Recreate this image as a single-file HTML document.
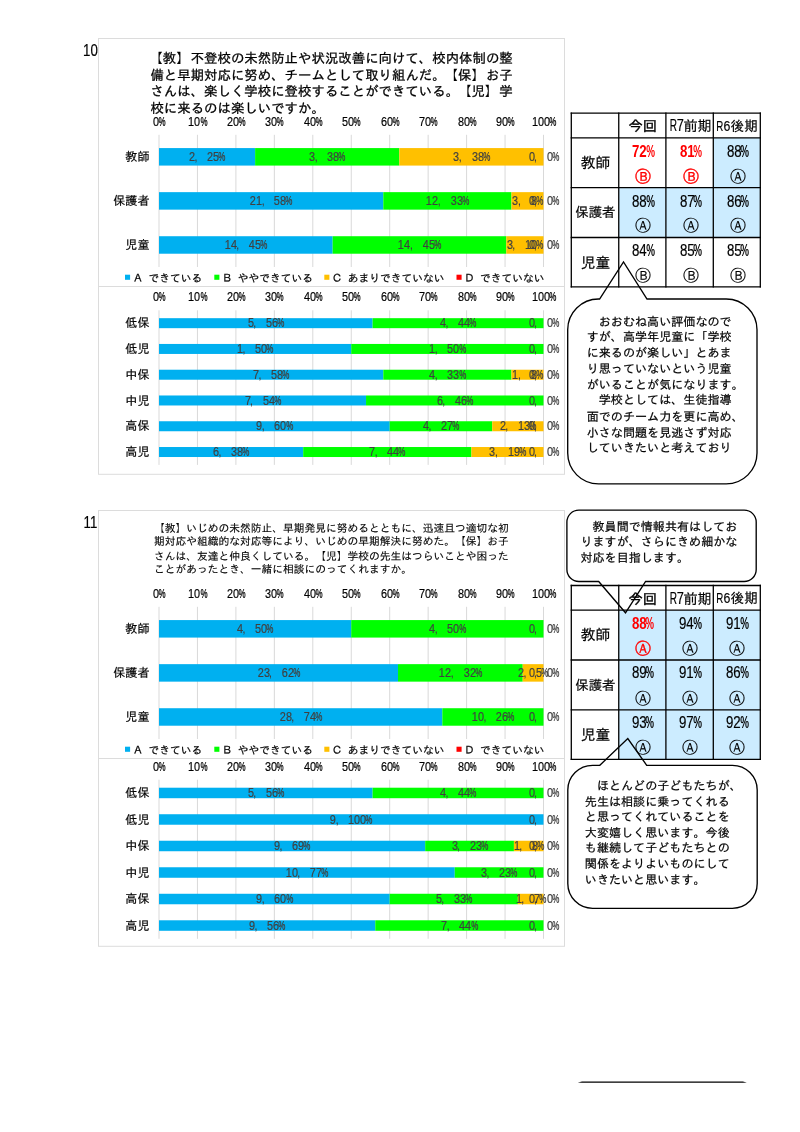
<!DOCTYPE html>
<html lang="ja">
<head>
<meta charset="utf-8">
<title>学校評価アンケート結果 10・11</title>
<style>
html,body{margin:0;padding:0;background:#fff}
body{width:800px;height:1132px;position:relative;overflow:hidden;color:#000;
 font-family:"Liberation Sans","IPAGothic",sans-serif;-webkit-font-smoothing:antialiased}
#shapes{position:absolute;left:0;top:0;width:800px;height:1132px;display:block}
.t{position:absolute;white-space:pre;margin:0;padding:0;-webkit-text-stroke:.2px currentColor;font-family:"Liberation Sans","IPAGothic",sans-serif}
.al{transform:none}
.ac{transform:translateX(-50%)}
.ar{transform:translateX(-100%)}
.d,.p,.m,.r,.s{display:inline-flex;justify-content:center;font-size:1.11em;line-height:0;width:0.4505em;vertical-align:baseline;white-space:pre}
.d{transform:scaleX(.81)}
.p{transform:scaleX(.6);font-weight:bold;-webkit-text-stroke:0}
.r{transform:scaleX(.64)}
.m{justify-content:flex-start;text-indent:-.06em;font-size:1em;width:.5em;-webkit-text-stroke:0}
.ttl{-webkit-text-stroke:.28px currentColor}
.bk{position:relative;left:0}
.t1 .bk{left:-1.1px}
.t2{-webkit-text-stroke:.12px currentColor}
.hb{-webkit-text-stroke:.38px currentColor}
.rb{font-weight:bold;-webkit-text-stroke:0}
.gr{-webkit-text-stroke:.1px currentColor}
.rg{-webkit-text-stroke:.35px currentColor}
</style>
</head>
<body>
<svg id="shapes" width="800" height="1132" viewBox="0 0 800 1132" shape-rendering="auto">
<g>
<rect x="98.5" y="38.5" width="466" height="435.8" fill="#fff" stroke="#DCDCDC" stroke-width="1"/>
<line x1="98.5" y1="286.5" x2="564.5" y2="286.5" stroke="#DCDCDC" stroke-width="1"/>
<line x1="159" y1="134.8" x2="159" y2="267" stroke="#D9D9D9" stroke-width="1"/>
<line x1="197.45" y1="134.8" x2="197.45" y2="267" stroke="#D9D9D9" stroke-width="1"/>
<line x1="235.9" y1="134.8" x2="235.9" y2="267" stroke="#D9D9D9" stroke-width="1"/>
<line x1="274.35" y1="134.8" x2="274.35" y2="267" stroke="#D9D9D9" stroke-width="1"/>
<line x1="312.8" y1="134.8" x2="312.8" y2="267" stroke="#D9D9D9" stroke-width="1"/>
<line x1="351.25" y1="134.8" x2="351.25" y2="267" stroke="#D9D9D9" stroke-width="1"/>
<line x1="389.7" y1="134.8" x2="389.7" y2="267" stroke="#D9D9D9" stroke-width="1"/>
<line x1="428.15" y1="134.8" x2="428.15" y2="267" stroke="#D9D9D9" stroke-width="1"/>
<line x1="466.6" y1="134.8" x2="466.6" y2="267" stroke="#D9D9D9" stroke-width="1"/>
<line x1="505.05" y1="134.8" x2="505.05" y2="267" stroke="#D9D9D9" stroke-width="1"/>
<line x1="543.5" y1="134.8" x2="543.5" y2="267" stroke="#D9D9D9" stroke-width="1"/>
<rect x="159" y="148.08" width="96.12" height="17.5" fill="#00B0F0"/>
<rect x="255.12" y="148.08" width="144.19" height="17.5" fill="#00FF00"/>
<rect x="399.31" y="148.08" width="144.19" height="17.5" fill="#FFC000"/>
<rect x="159" y="192.15" width="224.29" height="17.5" fill="#00B0F0"/>
<rect x="383.29" y="192.15" width="128.17" height="17.5" fill="#00FF00"/>
<rect x="511.46" y="192.15" width="32.04" height="17.5" fill="#FFC000"/>
<rect x="159" y="236.22" width="173.65" height="17.5" fill="#00B0F0"/>
<rect x="332.65" y="236.22" width="173.65" height="17.5" fill="#00FF00"/>
<rect x="506.29" y="236.22" width="37.21" height="17.5" fill="#FFC000"/>
<line x1="159" y1="310.3" x2="159" y2="464.9" stroke="#D9D9D9" stroke-width="1"/>
<line x1="197.45" y1="310.3" x2="197.45" y2="464.9" stroke="#D9D9D9" stroke-width="1"/>
<line x1="235.9" y1="310.3" x2="235.9" y2="464.9" stroke="#D9D9D9" stroke-width="1"/>
<line x1="274.35" y1="310.3" x2="274.35" y2="464.9" stroke="#D9D9D9" stroke-width="1"/>
<line x1="312.8" y1="310.3" x2="312.8" y2="464.9" stroke="#D9D9D9" stroke-width="1"/>
<line x1="351.25" y1="310.3" x2="351.25" y2="464.9" stroke="#D9D9D9" stroke-width="1"/>
<line x1="389.7" y1="310.3" x2="389.7" y2="464.9" stroke="#D9D9D9" stroke-width="1"/>
<line x1="428.15" y1="310.3" x2="428.15" y2="464.9" stroke="#D9D9D9" stroke-width="1"/>
<line x1="466.6" y1="310.3" x2="466.6" y2="464.9" stroke="#D9D9D9" stroke-width="1"/>
<line x1="505.05" y1="310.3" x2="505.05" y2="464.9" stroke="#D9D9D9" stroke-width="1"/>
<line x1="543.5" y1="310.3" x2="543.5" y2="464.9" stroke="#D9D9D9" stroke-width="1"/>
<rect x="159" y="318.18" width="213.61" height="10" fill="#00B0F0"/>
<rect x="372.61" y="318.18" width="170.89" height="10" fill="#00FF00"/>
<rect x="159" y="343.95" width="192.25" height="10" fill="#00B0F0"/>
<rect x="351.25" y="343.95" width="192.25" height="10" fill="#00FF00"/>
<rect x="159" y="369.72" width="224.29" height="10" fill="#00B0F0"/>
<rect x="383.29" y="369.72" width="128.17" height="10" fill="#00FF00"/>
<rect x="511.46" y="369.72" width="32.04" height="10" fill="#FFC000"/>
<rect x="159" y="395.48" width="207.04" height="10" fill="#00B0F0"/>
<rect x="366.04" y="395.48" width="177.46" height="10" fill="#00FF00"/>
<rect x="159" y="421.25" width="230.7" height="10" fill="#00B0F0"/>
<rect x="389.7" y="421.25" width="102.53" height="10" fill="#00FF00"/>
<rect x="492.23" y="421.25" width="51.27" height="10" fill="#FFC000"/>
<rect x="159" y="447.02" width="144.19" height="10" fill="#00B0F0"/>
<rect x="303.19" y="447.02" width="168.22" height="10" fill="#00FF00"/>
<rect x="471.41" y="447.02" width="72.09" height="10" fill="#FFC000"/>
<rect x="125" y="274.7" width="5.1" height="5.1" fill="#00B0F0"/>
<rect x="214.3" y="274.7" width="5.1" height="5.1" fill="#00FF00"/>
<rect x="324.3" y="274.7" width="5.1" height="5.1" fill="#FFC000"/>
<rect x="456.5" y="274.7" width="5.1" height="5.1" fill="#FF0000"/>
</g>
<g>
<rect x="98.5" y="510.5" width="466" height="435.8" fill="#fff" stroke="#DCDCDC" stroke-width="1"/>
<line x1="98.5" y1="758.5" x2="564.5" y2="758.5" stroke="#DCDCDC" stroke-width="1"/>
<line x1="159" y1="606.8" x2="159" y2="739" stroke="#D9D9D9" stroke-width="1"/>
<line x1="197.45" y1="606.8" x2="197.45" y2="739" stroke="#D9D9D9" stroke-width="1"/>
<line x1="235.9" y1="606.8" x2="235.9" y2="739" stroke="#D9D9D9" stroke-width="1"/>
<line x1="274.35" y1="606.8" x2="274.35" y2="739" stroke="#D9D9D9" stroke-width="1"/>
<line x1="312.8" y1="606.8" x2="312.8" y2="739" stroke="#D9D9D9" stroke-width="1"/>
<line x1="351.25" y1="606.8" x2="351.25" y2="739" stroke="#D9D9D9" stroke-width="1"/>
<line x1="389.7" y1="606.8" x2="389.7" y2="739" stroke="#D9D9D9" stroke-width="1"/>
<line x1="428.15" y1="606.8" x2="428.15" y2="739" stroke="#D9D9D9" stroke-width="1"/>
<line x1="466.6" y1="606.8" x2="466.6" y2="739" stroke="#D9D9D9" stroke-width="1"/>
<line x1="505.05" y1="606.8" x2="505.05" y2="739" stroke="#D9D9D9" stroke-width="1"/>
<line x1="543.5" y1="606.8" x2="543.5" y2="739" stroke="#D9D9D9" stroke-width="1"/>
<rect x="159" y="620.08" width="192.25" height="17.5" fill="#00B0F0"/>
<rect x="351.25" y="620.08" width="192.25" height="17.5" fill="#00FF00"/>
<rect x="159" y="664.15" width="239.01" height="17.5" fill="#00B0F0"/>
<rect x="398.01" y="664.15" width="124.7" height="17.5" fill="#00FF00"/>
<rect x="522.72" y="664.15" width="20.78" height="17.5" fill="#FFC000"/>
<rect x="159" y="708.22" width="283.32" height="17.5" fill="#00B0F0"/>
<rect x="442.32" y="708.22" width="101.18" height="17.5" fill="#00FF00"/>
<line x1="159" y1="779.7" x2="159" y2="938.8" stroke="#D9D9D9" stroke-width="1"/>
<line x1="197.45" y1="779.7" x2="197.45" y2="938.8" stroke="#D9D9D9" stroke-width="1"/>
<line x1="235.9" y1="779.7" x2="235.9" y2="938.8" stroke="#D9D9D9" stroke-width="1"/>
<line x1="274.35" y1="779.7" x2="274.35" y2="938.8" stroke="#D9D9D9" stroke-width="1"/>
<line x1="312.8" y1="779.7" x2="312.8" y2="938.8" stroke="#D9D9D9" stroke-width="1"/>
<line x1="351.25" y1="779.7" x2="351.25" y2="938.8" stroke="#D9D9D9" stroke-width="1"/>
<line x1="389.7" y1="779.7" x2="389.7" y2="938.8" stroke="#D9D9D9" stroke-width="1"/>
<line x1="428.15" y1="779.7" x2="428.15" y2="938.8" stroke="#D9D9D9" stroke-width="1"/>
<line x1="466.6" y1="779.7" x2="466.6" y2="938.8" stroke="#D9D9D9" stroke-width="1"/>
<line x1="505.05" y1="779.7" x2="505.05" y2="938.8" stroke="#D9D9D9" stroke-width="1"/>
<line x1="543.5" y1="779.7" x2="543.5" y2="938.8" stroke="#D9D9D9" stroke-width="1"/>
<rect x="159" y="787.71" width="213.61" height="10.5" fill="#00B0F0"/>
<rect x="372.61" y="787.71" width="170.89" height="10.5" fill="#00FF00"/>
<rect x="159" y="814.23" width="384.5" height="10.5" fill="#00B0F0"/>
<rect x="159" y="840.74" width="266.19" height="10.5" fill="#00B0F0"/>
<rect x="425.19" y="840.74" width="88.73" height="10.5" fill="#00FF00"/>
<rect x="513.92" y="840.74" width="29.58" height="10.5" fill="#FFC000"/>
<rect x="159" y="867.26" width="295.77" height="10.5" fill="#00B0F0"/>
<rect x="454.77" y="867.26" width="88.73" height="10.5" fill="#00FF00"/>
<rect x="159" y="893.77" width="230.7" height="10.5" fill="#00B0F0"/>
<rect x="389.7" y="893.77" width="128.17" height="10.5" fill="#00FF00"/>
<rect x="517.87" y="893.77" width="25.63" height="10.5" fill="#FFC000"/>
<rect x="159" y="920.29" width="216.28" height="10.5" fill="#00B0F0"/>
<rect x="375.28" y="920.29" width="168.22" height="10.5" fill="#00FF00"/>
<rect x="125" y="746.7" width="5.1" height="5.1" fill="#00B0F0"/>
<rect x="214.3" y="746.7" width="5.1" height="5.1" fill="#00FF00"/>
<rect x="324.3" y="746.7" width="5.1" height="5.1" fill="#FFC000"/>
<rect x="456.5" y="746.7" width="5.1" height="5.1" fill="#FF0000"/>
</g>
<g>
<rect x="571.3" y="113.1" width="189" height="173.8" fill="#fff"/>
<rect x="713.3" y="137.8" width="47" height="49.8" fill="#CCECFF"/>
<rect x="618.75" y="187.6" width="47.15" height="49.9" fill="#CCECFF"/>
<rect x="665.9" y="187.6" width="47.4" height="49.9" fill="#CCECFF"/>
<rect x="713.3" y="187.6" width="47" height="49.9" fill="#CCECFF"/>
<line x1="571.3" y1="112.45" x2="571.3" y2="287.55" stroke="#000" stroke-width="1.3"/>
<line x1="618.75" y1="112.45" x2="618.75" y2="287.55" stroke="#000" stroke-width="1.3"/>
<line x1="665.9" y1="112.45" x2="665.9" y2="287.55" stroke="#000" stroke-width="1.3"/>
<line x1="713.3" y1="112.45" x2="713.3" y2="287.55" stroke="#000" stroke-width="1.3"/>
<line x1="760.3" y1="112.45" x2="760.3" y2="287.55" stroke="#000" stroke-width="1.3"/>
<line x1="570.65" y1="113.1" x2="760.95" y2="113.1" stroke="#000" stroke-width="1.3"/>
<line x1="570.65" y1="137.8" x2="760.95" y2="137.8" stroke="#000" stroke-width="1.3"/>
<line x1="570.65" y1="187.6" x2="760.95" y2="187.6" stroke="#000" stroke-width="1.3"/>
<line x1="570.65" y1="237.5" x2="760.95" y2="237.5" stroke="#000" stroke-width="1.3"/>
<line x1="570.65" y1="286.9" x2="760.95" y2="286.9" stroke="#000" stroke-width="1.3"/>
</g>
<g>
<rect x="571.3" y="585.5" width="189" height="173.8" fill="#fff"/>
<rect x="618.75" y="610.2" width="47.15" height="49.8" fill="#CCECFF"/>
<rect x="665.9" y="610.2" width="47.4" height="49.8" fill="#CCECFF"/>
<rect x="713.3" y="610.2" width="47" height="49.8" fill="#CCECFF"/>
<rect x="618.75" y="660" width="47.15" height="49.9" fill="#CCECFF"/>
<rect x="665.9" y="660" width="47.4" height="49.9" fill="#CCECFF"/>
<rect x="713.3" y="660" width="47" height="49.9" fill="#CCECFF"/>
<rect x="618.75" y="709.9" width="47.15" height="49.4" fill="#CCECFF"/>
<rect x="665.9" y="709.9" width="47.4" height="49.4" fill="#CCECFF"/>
<rect x="713.3" y="709.9" width="47" height="49.4" fill="#CCECFF"/>
<line x1="571.3" y1="584.85" x2="571.3" y2="759.95" stroke="#000" stroke-width="1.3"/>
<line x1="618.75" y1="584.85" x2="618.75" y2="759.95" stroke="#000" stroke-width="1.3"/>
<line x1="665.9" y1="584.85" x2="665.9" y2="759.95" stroke="#000" stroke-width="1.3"/>
<line x1="713.3" y1="584.85" x2="713.3" y2="759.95" stroke="#000" stroke-width="1.3"/>
<line x1="760.3" y1="584.85" x2="760.3" y2="759.95" stroke="#000" stroke-width="1.3"/>
<line x1="570.65" y1="585.5" x2="760.95" y2="585.5" stroke="#000" stroke-width="1.3"/>
<line x1="570.65" y1="610.2" x2="760.95" y2="610.2" stroke="#000" stroke-width="1.3"/>
<line x1="570.65" y1="660" x2="760.95" y2="660" stroke="#000" stroke-width="1.3"/>
<line x1="570.65" y1="709.9" x2="760.95" y2="709.9" stroke="#000" stroke-width="1.3"/>
<line x1="570.65" y1="759.3" x2="760.95" y2="759.3" stroke="#000" stroke-width="1.3"/>
</g>
<path d="M598.5 299 L599.6 299 L623.5 262 L647 299 L726.2 299 A30.8 30.8 0 0 1 757 329.8 L757 453.1 A30.8 30.8 0 0 1 726.2 483.9 L598.5 483.9 A30.8 30.8 0 0 1 567.7 453.1 L567.7 329.8 A30.8 30.8 0 0 1 598.5 299 Z" fill="none" stroke="#000" stroke-width="1.35" stroke-linejoin="miter"/>
<path d="M578.9 510.1 L744.2 510.1 A12 12 0 0 1 756.2 522.1 L756.2 569.5 A12 12 0 0 1 744.2 581.5 L645.6 581.5 L625.5 612.8 L598.7 581.5 L578.9 581.5 A12 12 0 0 1 566.9 569.5 L566.9 522.1 A12 12 0 0 1 578.9 510.1 Z" fill="none" stroke="#000" stroke-width="1.35" stroke-linejoin="miter"/>
<path d="M592.6 765.3 L599.8 765.3 L627.8 738.5 L646.7 765.3 L732.4 765.3 A24.8 24.8 0 0 1 757.2 790.1 L757.2 883.5 A24.8 24.8 0 0 1 732.4 908.3 L592.6 908.3 A24.8 24.8 0 0 1 567.8 883.5 L567.8 790.1 A24.8 24.8 0 0 1 592.6 765.3 Z" fill="none" stroke="#000" stroke-width="1.35" stroke-linejoin="miter"/>
<path d="M577.8 1082.5 L582 1081.45 L742.8 1081.45 L746.9 1082.5 L742.8 1082.85 L582 1082.85 Z" fill="#000"/>
</svg>
<div class="t al no" style="left:82.6px;top:43px;font-size:14.78px;line-height:17px"><span class="d" style="width:0.9009em">10</span></div>
<div class="t al no" style="left:82.6px;top:515px;font-size:14.78px;line-height:17px"><span class="d" style="width:0.9009em">11</span></div>
<div class="t al ttl t1" style="left:150.4px;top:51px;font-size:13.43px;line-height:16px"><span class="bk">【教】</span>不登校の未然防止や状況改善に向けて、校内体制の整</div>
<div class="t al ttl t1" style="left:150.4px;top:68px;font-size:13.43px;line-height:16px">備と早期対応に努め、チームとして取り組んだ。<span class="bk">【保】</span>お子</div>
<div class="t al ttl t1" style="left:150.4px;top:84px;font-size:13.43px;line-height:16px">さんは、楽しく学校に登校することができている。<span class="bk">【児】</span>学</div>
<div class="t al ttl t1" style="left:150.4px;top:101px;font-size:13.43px;line-height:16px">校に来るのは楽しいですか。</div>
<div class="t ac ax" style="left:159px;top:115px;font-size:12.09px;line-height:15px"><span class="d" style="width:0.4505em">0</span><span class="p">%</span></div>
<div class="t ac ax" style="left:197.45px;top:115px;font-size:12.09px;line-height:15px"><span class="d" style="width:0.9009em">10</span><span class="p">%</span></div>
<div class="t ac ax" style="left:235.9px;top:115px;font-size:12.09px;line-height:15px"><span class="d" style="width:0.9009em">20</span><span class="p">%</span></div>
<div class="t ac ax" style="left:274.35px;top:115px;font-size:12.09px;line-height:15px"><span class="d" style="width:0.9009em">30</span><span class="p">%</span></div>
<div class="t ac ax" style="left:312.8px;top:115px;font-size:12.09px;line-height:15px"><span class="d" style="width:0.9009em">40</span><span class="p">%</span></div>
<div class="t ac ax" style="left:351.25px;top:115px;font-size:12.09px;line-height:15px"><span class="d" style="width:0.9009em">50</span><span class="p">%</span></div>
<div class="t ac ax" style="left:389.7px;top:115px;font-size:12.09px;line-height:15px"><span class="d" style="width:0.9009em">60</span><span class="p">%</span></div>
<div class="t ac ax" style="left:428.15px;top:115px;font-size:12.09px;line-height:15px"><span class="d" style="width:0.9009em">70</span><span class="p">%</span></div>
<div class="t ac ax" style="left:466.6px;top:115px;font-size:12.09px;line-height:15px"><span class="d" style="width:0.9009em">80</span><span class="p">%</span></div>
<div class="t ac ax" style="left:505.05px;top:115px;font-size:12.09px;line-height:15px"><span class="d" style="width:0.9009em">90</span><span class="p">%</span></div>
<div class="t ac ax" style="left:543.5px;top:115px;font-size:12.09px;line-height:15px"><span class="d" style="width:1.3514em">100</span><span class="p">%</span></div>
<div class="t ar cat" style="left:149.5px;top:150px;font-size:12.09px;line-height:15px">教師</div>
<div class="t ac dl" style="left:207.06px;top:150px;font-size:12.09px;line-height:15px;color:#404040"><span class="d" style="width:0.4505em">2</span><span class="m">,</span><span class="s"> </span><span class="d" style="width:0.9009em">25</span><span class="p">%</span></div>
<div class="t ac dl" style="left:327.22px;top:150px;font-size:12.09px;line-height:15px;color:#404040"><span class="d" style="width:0.4505em">3</span><span class="m">,</span><span class="s"> </span><span class="d" style="width:0.9009em">38</span><span class="p">%</span></div>
<div class="t ac dl" style="left:471.41px;top:150px;font-size:12.09px;line-height:15px;color:#404040"><span class="d" style="width:0.4505em">3</span><span class="m">,</span><span class="s"> </span><span class="d" style="width:0.9009em">38</span><span class="p">%</span></div>
<div class="t ac dl" style="left:543.5px;top:150px;font-size:12.09px;line-height:15px;color:#404040"><span class="d" style="width:0.4505em">0</span><span class="m">,</span><span class="s"> </span><span class="d" style="width:0.4505em">0</span><span class="p">%</span></div>
<div class="t ar cat" style="left:149.5px;top:194px;font-size:12.09px;line-height:15px">保護者</div>
<div class="t ac dl" style="left:271.15px;top:194px;font-size:12.09px;line-height:15px;color:#404040"><span class="d" style="width:0.9009em">21</span><span class="m">,</span><span class="s"> </span><span class="d" style="width:0.9009em">58</span><span class="p">%</span></div>
<div class="t ac dl" style="left:447.38px;top:194px;font-size:12.09px;line-height:15px;color:#404040"><span class="d" style="width:0.9009em">12</span><span class="m">,</span><span class="s"> </span><span class="d" style="width:0.9009em">33</span><span class="p">%</span></div>
<div class="t ac dl" style="left:527.48px;top:194px;font-size:12.09px;line-height:15px;color:#404040"><span class="d" style="width:0.4505em">3</span><span class="m">,</span><span class="s"> </span><span class="d" style="width:0.4505em">8</span><span class="p">%</span></div>
<div class="t ac dl" style="left:543.5px;top:194px;font-size:12.09px;line-height:15px;color:#404040"><span class="d" style="width:0.4505em">0</span><span class="m">,</span><span class="s"> </span><span class="d" style="width:0.4505em">0</span><span class="p">%</span></div>
<div class="t ar cat" style="left:149.5px;top:238px;font-size:12.09px;line-height:15px">児童</div>
<div class="t ac dl" style="left:245.82px;top:238px;font-size:12.09px;line-height:15px;color:#404040"><span class="d" style="width:0.9009em">14</span><span class="m">,</span><span class="s"> </span><span class="d" style="width:0.9009em">45</span><span class="p">%</span></div>
<div class="t ac dl" style="left:419.47px;top:238px;font-size:12.09px;line-height:15px;color:#404040"><span class="d" style="width:0.9009em">14</span><span class="m">,</span><span class="s"> </span><span class="d" style="width:0.9009em">45</span><span class="p">%</span></div>
<div class="t ac dl" style="left:524.9px;top:238px;font-size:12.09px;line-height:15px;color:#404040"><span class="d" style="width:0.4505em">3</span><span class="m">,</span><span class="s"> </span><span class="d" style="width:0.9009em">10</span><span class="p">%</span></div>
<div class="t ac dl" style="left:543.5px;top:238px;font-size:12.09px;line-height:15px;color:#404040"><span class="d" style="width:0.4505em">0</span><span class="m">,</span><span class="s"> </span><span class="d" style="width:0.4505em">0</span><span class="p">%</span></div>
<div class="t ac ax" style="left:159px;top:290px;font-size:12.09px;line-height:15px"><span class="d" style="width:0.4505em">0</span><span class="p">%</span></div>
<div class="t ac ax" style="left:197.45px;top:290px;font-size:12.09px;line-height:15px"><span class="d" style="width:0.9009em">10</span><span class="p">%</span></div>
<div class="t ac ax" style="left:235.9px;top:290px;font-size:12.09px;line-height:15px"><span class="d" style="width:0.9009em">20</span><span class="p">%</span></div>
<div class="t ac ax" style="left:274.35px;top:290px;font-size:12.09px;line-height:15px"><span class="d" style="width:0.9009em">30</span><span class="p">%</span></div>
<div class="t ac ax" style="left:312.8px;top:290px;font-size:12.09px;line-height:15px"><span class="d" style="width:0.9009em">40</span><span class="p">%</span></div>
<div class="t ac ax" style="left:351.25px;top:290px;font-size:12.09px;line-height:15px"><span class="d" style="width:0.9009em">50</span><span class="p">%</span></div>
<div class="t ac ax" style="left:389.7px;top:290px;font-size:12.09px;line-height:15px"><span class="d" style="width:0.9009em">60</span><span class="p">%</span></div>
<div class="t ac ax" style="left:428.15px;top:290px;font-size:12.09px;line-height:15px"><span class="d" style="width:0.9009em">70</span><span class="p">%</span></div>
<div class="t ac ax" style="left:466.6px;top:290px;font-size:12.09px;line-height:15px"><span class="d" style="width:0.9009em">80</span><span class="p">%</span></div>
<div class="t ac ax" style="left:505.05px;top:290px;font-size:12.09px;line-height:15px"><span class="d" style="width:0.9009em">90</span><span class="p">%</span></div>
<div class="t ac ax" style="left:543.5px;top:290px;font-size:12.09px;line-height:15px"><span class="d" style="width:1.3514em">100</span><span class="p">%</span></div>
<div class="t ar cat" style="left:149.5px;top:316px;font-size:12.09px;line-height:15px">低保</div>
<div class="t ac dl" style="left:265.81px;top:316px;font-size:12.09px;line-height:15px;color:#404040"><span class="d" style="width:0.4505em">5</span><span class="m">,</span><span class="s"> </span><span class="d" style="width:0.9009em">56</span><span class="p">%</span></div>
<div class="t ac dl" style="left:458.06px;top:316px;font-size:12.09px;line-height:15px;color:#404040"><span class="d" style="width:0.4505em">4</span><span class="m">,</span><span class="s"> </span><span class="d" style="width:0.9009em">44</span><span class="p">%</span></div>
<div class="t ac dl" style="left:543.5px;top:316px;font-size:12.09px;line-height:15px;color:#404040"><span class="d" style="width:0.4505em">0</span><span class="m">,</span><span class="s"> </span><span class="d" style="width:0.4505em">0</span><span class="p">%</span></div>
<div class="t ar cat" style="left:149.5px;top:342px;font-size:12.09px;line-height:15px">低児</div>
<div class="t ac dl" style="left:255.12px;top:342px;font-size:12.09px;line-height:15px;color:#404040"><span class="d" style="width:0.4505em">1</span><span class="m">,</span><span class="s"> </span><span class="d" style="width:0.9009em">50</span><span class="p">%</span></div>
<div class="t ac dl" style="left:447.38px;top:342px;font-size:12.09px;line-height:15px;color:#404040"><span class="d" style="width:0.4505em">1</span><span class="m">,</span><span class="s"> </span><span class="d" style="width:0.9009em">50</span><span class="p">%</span></div>
<div class="t ac dl" style="left:543.5px;top:342px;font-size:12.09px;line-height:15px;color:#404040"><span class="d" style="width:0.4505em">0</span><span class="m">,</span><span class="s"> </span><span class="d" style="width:0.4505em">0</span><span class="p">%</span></div>
<div class="t ar cat" style="left:149.5px;top:368px;font-size:12.09px;line-height:15px">中保</div>
<div class="t ac dl" style="left:271.15px;top:368px;font-size:12.09px;line-height:15px;color:#404040"><span class="d" style="width:0.4505em">7</span><span class="m">,</span><span class="s"> </span><span class="d" style="width:0.9009em">58</span><span class="p">%</span></div>
<div class="t ac dl" style="left:447.38px;top:368px;font-size:12.09px;line-height:15px;color:#404040"><span class="d" style="width:0.4505em">4</span><span class="m">,</span><span class="s"> </span><span class="d" style="width:0.9009em">33</span><span class="p">%</span></div>
<div class="t ac dl" style="left:527.48px;top:368px;font-size:12.09px;line-height:15px;color:#404040"><span class="d" style="width:0.4505em">1</span><span class="m">,</span><span class="s"> </span><span class="d" style="width:0.4505em">8</span><span class="p">%</span></div>
<div class="t ac dl" style="left:543.5px;top:368px;font-size:12.09px;line-height:15px;color:#404040"><span class="d" style="width:0.4505em">0</span><span class="m">,</span><span class="s"> </span><span class="d" style="width:0.4505em">0</span><span class="p">%</span></div>
<div class="t ar cat" style="left:149.5px;top:394px;font-size:12.09px;line-height:15px">中児</div>
<div class="t ac dl" style="left:262.52px;top:394px;font-size:12.09px;line-height:15px;color:#404040"><span class="d" style="width:0.4505em">7</span><span class="m">,</span><span class="s"> </span><span class="d" style="width:0.9009em">54</span><span class="p">%</span></div>
<div class="t ac dl" style="left:454.77px;top:394px;font-size:12.09px;line-height:15px;color:#404040"><span class="d" style="width:0.4505em">6</span><span class="m">,</span><span class="s"> </span><span class="d" style="width:0.9009em">46</span><span class="p">%</span></div>
<div class="t ac dl" style="left:543.5px;top:394px;font-size:12.09px;line-height:15px;color:#404040"><span class="d" style="width:0.4505em">0</span><span class="m">,</span><span class="s"> </span><span class="d" style="width:0.4505em">0</span><span class="p">%</span></div>
<div class="t ar cat" style="left:149.5px;top:419px;font-size:12.09px;line-height:15px">高保</div>
<div class="t ac dl" style="left:274.35px;top:419px;font-size:12.09px;line-height:15px;color:#404040"><span class="d" style="width:0.4505em">9</span><span class="m">,</span><span class="s"> </span><span class="d" style="width:0.9009em">60</span><span class="p">%</span></div>
<div class="t ac dl" style="left:440.97px;top:419px;font-size:12.09px;line-height:15px;color:#404040"><span class="d" style="width:0.4505em">4</span><span class="m">,</span><span class="s"> </span><span class="d" style="width:0.9009em">27</span><span class="p">%</span></div>
<div class="t ac dl" style="left:517.87px;top:419px;font-size:12.09px;line-height:15px;color:#404040"><span class="d" style="width:0.4505em">2</span><span class="m">,</span><span class="s"> </span><span class="d" style="width:0.9009em">13</span><span class="p">%</span></div>
<div class="t ac dl" style="left:543.5px;top:419px;font-size:12.09px;line-height:15px;color:#404040"><span class="d" style="width:0.4505em">0</span><span class="m">,</span><span class="s"> </span><span class="d" style="width:0.4505em">0</span><span class="p">%</span></div>
<div class="t ar cat" style="left:149.5px;top:445px;font-size:12.09px;line-height:15px">高児</div>
<div class="t ac dl" style="left:231.09px;top:445px;font-size:12.09px;line-height:15px;color:#404040"><span class="d" style="width:0.4505em">6</span><span class="m">,</span><span class="s"> </span><span class="d" style="width:0.9009em">38</span><span class="p">%</span></div>
<div class="t ac dl" style="left:387.3px;top:445px;font-size:12.09px;line-height:15px;color:#404040"><span class="d" style="width:0.4505em">7</span><span class="m">,</span><span class="s"> </span><span class="d" style="width:0.9009em">44</span><span class="p">%</span></div>
<div class="t ac dl" style="left:507.45px;top:445px;font-size:12.09px;line-height:15px;color:#404040"><span class="d" style="width:0.4505em">3</span><span class="m">,</span><span class="s"> </span><span class="d" style="width:0.9009em">19</span><span class="p">%</span></div>
<div class="t ac dl" style="left:543.5px;top:445px;font-size:12.09px;line-height:15px;color:#404040"><span class="d" style="width:0.4505em">0</span><span class="m">,</span><span class="s"> </span><span class="d" style="width:0.4505em">0</span><span class="p">%</span></div>
<div class="t al lg" style="left:132.4px;top:272px;font-size:10.75px;line-height:13px">Ａ<span class="s"> </span>できている</div>
<div class="t al lg" style="left:221.7px;top:272px;font-size:10.75px;line-height:13px">Ｂ<span class="s"> </span>ややできている</div>
<div class="t al lg" style="left:331.7px;top:272px;font-size:10.75px;line-height:13px">Ｃ<span class="s"> </span>あまりできていない</div>
<div class="t al lg" style="left:463.9px;top:272px;font-size:10.75px;line-height:13px">Ｄ<span class="s"> </span>できていない</div>
<div class="t al ttl t2" style="left:154px;top:522px;font-size:10.75px;line-height:13px"><span class="bk">【教】</span>いじめの未然防止、早期発見に努めるとともに、迅速且つ適切な初</div>
<div class="t al ttl t2" style="left:154px;top:535px;font-size:10.75px;line-height:13px">期対応や組織的な対応等により、いじめの早期解決に努めた。<span class="bk">【保】</span>お子</div>
<div class="t al ttl t2" style="left:154px;top:550px;font-size:10.75px;line-height:13px">さんは、友達と仲良くしている。<span class="bk">【児】</span>学校の先生はつらいことや困った</div>
<div class="t al ttl t2" style="left:154px;top:563px;font-size:10.75px;line-height:13px">ことがあったとき、一緒に相談にのってくれますか。</div>
<div class="t ac ax" style="left:159px;top:587px;font-size:12.09px;line-height:15px"><span class="d" style="width:0.4505em">0</span><span class="p">%</span></div>
<div class="t ac ax" style="left:197.45px;top:587px;font-size:12.09px;line-height:15px"><span class="d" style="width:0.9009em">10</span><span class="p">%</span></div>
<div class="t ac ax" style="left:235.9px;top:587px;font-size:12.09px;line-height:15px"><span class="d" style="width:0.9009em">20</span><span class="p">%</span></div>
<div class="t ac ax" style="left:274.35px;top:587px;font-size:12.09px;line-height:15px"><span class="d" style="width:0.9009em">30</span><span class="p">%</span></div>
<div class="t ac ax" style="left:312.8px;top:587px;font-size:12.09px;line-height:15px"><span class="d" style="width:0.9009em">40</span><span class="p">%</span></div>
<div class="t ac ax" style="left:351.25px;top:587px;font-size:12.09px;line-height:15px"><span class="d" style="width:0.9009em">50</span><span class="p">%</span></div>
<div class="t ac ax" style="left:389.7px;top:587px;font-size:12.09px;line-height:15px"><span class="d" style="width:0.9009em">60</span><span class="p">%</span></div>
<div class="t ac ax" style="left:428.15px;top:587px;font-size:12.09px;line-height:15px"><span class="d" style="width:0.9009em">70</span><span class="p">%</span></div>
<div class="t ac ax" style="left:466.6px;top:587px;font-size:12.09px;line-height:15px"><span class="d" style="width:0.9009em">80</span><span class="p">%</span></div>
<div class="t ac ax" style="left:505.05px;top:587px;font-size:12.09px;line-height:15px"><span class="d" style="width:0.9009em">90</span><span class="p">%</span></div>
<div class="t ac ax" style="left:543.5px;top:587px;font-size:12.09px;line-height:15px"><span class="d" style="width:1.3514em">100</span><span class="p">%</span></div>
<div class="t ar cat" style="left:149.5px;top:622px;font-size:12.09px;line-height:15px">教師</div>
<div class="t ac dl" style="left:255.12px;top:622px;font-size:12.09px;line-height:15px;color:#404040"><span class="d" style="width:0.4505em">4</span><span class="m">,</span><span class="s"> </span><span class="d" style="width:0.9009em">50</span><span class="p">%</span></div>
<div class="t ac dl" style="left:447.38px;top:622px;font-size:12.09px;line-height:15px;color:#404040"><span class="d" style="width:0.4505em">4</span><span class="m">,</span><span class="s"> </span><span class="d" style="width:0.9009em">50</span><span class="p">%</span></div>
<div class="t ac dl" style="left:543.5px;top:622px;font-size:12.09px;line-height:15px;color:#404040"><span class="d" style="width:0.4505em">0</span><span class="m">,</span><span class="s"> </span><span class="d" style="width:0.4505em">0</span><span class="p">%</span></div>
<div class="t ar cat" style="left:149.5px;top:666px;font-size:12.09px;line-height:15px">保護者</div>
<div class="t ac dl" style="left:278.51px;top:666px;font-size:12.09px;line-height:15px;color:#404040"><span class="d" style="width:0.9009em">23</span><span class="m">,</span><span class="s"> </span><span class="d" style="width:0.9009em">62</span><span class="p">%</span></div>
<div class="t ac dl" style="left:460.36px;top:666px;font-size:12.09px;line-height:15px;color:#404040"><span class="d" style="width:0.9009em">12</span><span class="m">,</span><span class="s"> </span><span class="d" style="width:0.9009em">32</span><span class="p">%</span></div>
<div class="t ac dl" style="left:533.11px;top:666px;font-size:12.09px;line-height:15px;color:#404040"><span class="d" style="width:0.4505em">2</span><span class="m">,</span><span class="s"> </span><span class="d" style="width:0.4505em">5</span><span class="p">%</span></div>
<div class="t ac dl" style="left:543.5px;top:666px;font-size:12.09px;line-height:15px;color:#404040"><span class="d" style="width:0.4505em">0</span><span class="m">,</span><span class="s"> </span><span class="d" style="width:0.4505em">0</span><span class="p">%</span></div>
<div class="t ar cat" style="left:149.5px;top:710px;font-size:12.09px;line-height:15px">児童</div>
<div class="t ac dl" style="left:300.66px;top:710px;font-size:12.09px;line-height:15px;color:#404040"><span class="d" style="width:0.9009em">28</span><span class="m">,</span><span class="s"> </span><span class="d" style="width:0.9009em">74</span><span class="p">%</span></div>
<div class="t ac dl" style="left:492.91px;top:710px;font-size:12.09px;line-height:15px;color:#404040"><span class="d" style="width:0.9009em">10</span><span class="m">,</span><span class="s"> </span><span class="d" style="width:0.9009em">26</span><span class="p">%</span></div>
<div class="t ac dl" style="left:543.5px;top:710px;font-size:12.09px;line-height:15px;color:#404040"><span class="d" style="width:0.4505em">0</span><span class="m">,</span><span class="s"> </span><span class="d" style="width:0.4505em">0</span><span class="p">%</span></div>
<div class="t ac ax" style="left:159px;top:760px;font-size:12.09px;line-height:15px"><span class="d" style="width:0.4505em">0</span><span class="p">%</span></div>
<div class="t ac ax" style="left:197.45px;top:760px;font-size:12.09px;line-height:15px"><span class="d" style="width:0.9009em">10</span><span class="p">%</span></div>
<div class="t ac ax" style="left:235.9px;top:760px;font-size:12.09px;line-height:15px"><span class="d" style="width:0.9009em">20</span><span class="p">%</span></div>
<div class="t ac ax" style="left:274.35px;top:760px;font-size:12.09px;line-height:15px"><span class="d" style="width:0.9009em">30</span><span class="p">%</span></div>
<div class="t ac ax" style="left:312.8px;top:760px;font-size:12.09px;line-height:15px"><span class="d" style="width:0.9009em">40</span><span class="p">%</span></div>
<div class="t ac ax" style="left:351.25px;top:760px;font-size:12.09px;line-height:15px"><span class="d" style="width:0.9009em">50</span><span class="p">%</span></div>
<div class="t ac ax" style="left:389.7px;top:760px;font-size:12.09px;line-height:15px"><span class="d" style="width:0.9009em">60</span><span class="p">%</span></div>
<div class="t ac ax" style="left:428.15px;top:760px;font-size:12.09px;line-height:15px"><span class="d" style="width:0.9009em">70</span><span class="p">%</span></div>
<div class="t ac ax" style="left:466.6px;top:760px;font-size:12.09px;line-height:15px"><span class="d" style="width:0.9009em">80</span><span class="p">%</span></div>
<div class="t ac ax" style="left:505.05px;top:760px;font-size:12.09px;line-height:15px"><span class="d" style="width:0.9009em">90</span><span class="p">%</span></div>
<div class="t ac ax" style="left:543.5px;top:760px;font-size:12.09px;line-height:15px"><span class="d" style="width:1.3514em">100</span><span class="p">%</span></div>
<div class="t ar cat" style="left:149.5px;top:786px;font-size:12.09px;line-height:15px">低保</div>
<div class="t ac dl" style="left:265.81px;top:786px;font-size:12.09px;line-height:15px;color:#404040"><span class="d" style="width:0.4505em">5</span><span class="m">,</span><span class="s"> </span><span class="d" style="width:0.9009em">56</span><span class="p">%</span></div>
<div class="t ac dl" style="left:458.06px;top:786px;font-size:12.09px;line-height:15px;color:#404040"><span class="d" style="width:0.4505em">4</span><span class="m">,</span><span class="s"> </span><span class="d" style="width:0.9009em">44</span><span class="p">%</span></div>
<div class="t ac dl" style="left:543.5px;top:786px;font-size:12.09px;line-height:15px;color:#404040"><span class="d" style="width:0.4505em">0</span><span class="m">,</span><span class="s"> </span><span class="d" style="width:0.4505em">0</span><span class="p">%</span></div>
<div class="t ar cat" style="left:149.5px;top:813px;font-size:12.09px;line-height:15px">低児</div>
<div class="t ac dl" style="left:351.25px;top:813px;font-size:12.09px;line-height:15px;color:#404040"><span class="d" style="width:0.4505em">9</span><span class="m">,</span><span class="s"> </span><span class="d" style="width:1.3514em">100</span><span class="p">%</span></div>
<div class="t ac dl" style="left:543.5px;top:813px;font-size:12.09px;line-height:15px;color:#404040"><span class="d" style="width:0.4505em">0</span><span class="m">,</span><span class="s"> </span><span class="d" style="width:0.4505em">0</span><span class="p">%</span></div>
<div class="t ar cat" style="left:149.5px;top:839px;font-size:12.09px;line-height:15px">中保</div>
<div class="t ac dl" style="left:292.1px;top:839px;font-size:12.09px;line-height:15px;color:#404040"><span class="d" style="width:0.4505em">9</span><span class="m">,</span><span class="s"> </span><span class="d" style="width:0.9009em">69</span><span class="p">%</span></div>
<div class="t ac dl" style="left:469.56px;top:839px;font-size:12.09px;line-height:15px;color:#404040"><span class="d" style="width:0.4505em">3</span><span class="m">,</span><span class="s"> </span><span class="d" style="width:0.9009em">23</span><span class="p">%</span></div>
<div class="t ac dl" style="left:528.71px;top:839px;font-size:12.09px;line-height:15px;color:#404040"><span class="d" style="width:0.4505em">1</span><span class="m">,</span><span class="s"> </span><span class="d" style="width:0.4505em">8</span><span class="p">%</span></div>
<div class="t ac dl" style="left:543.5px;top:839px;font-size:12.09px;line-height:15px;color:#404040"><span class="d" style="width:0.4505em">0</span><span class="m">,</span><span class="s"> </span><span class="d" style="width:0.4505em">0</span><span class="p">%</span></div>
<div class="t ar cat" style="left:149.5px;top:866px;font-size:12.09px;line-height:15px">中児</div>
<div class="t ac dl" style="left:306.88px;top:866px;font-size:12.09px;line-height:15px;color:#404040"><span class="d" style="width:0.9009em">10</span><span class="m">,</span><span class="s"> </span><span class="d" style="width:0.9009em">77</span><span class="p">%</span></div>
<div class="t ac dl" style="left:499.13px;top:866px;font-size:12.09px;line-height:15px;color:#404040"><span class="d" style="width:0.4505em">3</span><span class="m">,</span><span class="s"> </span><span class="d" style="width:0.9009em">23</span><span class="p">%</span></div>
<div class="t ac dl" style="left:543.5px;top:866px;font-size:12.09px;line-height:15px;color:#404040"><span class="d" style="width:0.4505em">0</span><span class="m">,</span><span class="s"> </span><span class="d" style="width:0.4505em">0</span><span class="p">%</span></div>
<div class="t ar cat" style="left:149.5px;top:892px;font-size:12.09px;line-height:15px">高保</div>
<div class="t ac dl" style="left:274.35px;top:892px;font-size:12.09px;line-height:15px;color:#404040"><span class="d" style="width:0.4505em">9</span><span class="m">,</span><span class="s"> </span><span class="d" style="width:0.9009em">60</span><span class="p">%</span></div>
<div class="t ac dl" style="left:453.78px;top:892px;font-size:12.09px;line-height:15px;color:#404040"><span class="d" style="width:0.4505em">5</span><span class="m">,</span><span class="s"> </span><span class="d" style="width:0.9009em">33</span><span class="p">%</span></div>
<div class="t ac dl" style="left:530.68px;top:892px;font-size:12.09px;line-height:15px;color:#404040"><span class="d" style="width:0.4505em">1</span><span class="m">,</span><span class="s"> </span><span class="d" style="width:0.4505em">7</span><span class="p">%</span></div>
<div class="t ac dl" style="left:543.5px;top:892px;font-size:12.09px;line-height:15px;color:#404040"><span class="d" style="width:0.4505em">0</span><span class="m">,</span><span class="s"> </span><span class="d" style="width:0.4505em">0</span><span class="p">%</span></div>
<div class="t ar cat" style="left:149.5px;top:919px;font-size:12.09px;line-height:15px">高児</div>
<div class="t ac dl" style="left:267.14px;top:919px;font-size:12.09px;line-height:15px;color:#404040"><span class="d" style="width:0.4505em">9</span><span class="m">,</span><span class="s"> </span><span class="d" style="width:0.9009em">56</span><span class="p">%</span></div>
<div class="t ac dl" style="left:459.39px;top:919px;font-size:12.09px;line-height:15px;color:#404040"><span class="d" style="width:0.4505em">7</span><span class="m">,</span><span class="s"> </span><span class="d" style="width:0.9009em">44</span><span class="p">%</span></div>
<div class="t ac dl" style="left:543.5px;top:919px;font-size:12.09px;line-height:15px;color:#404040"><span class="d" style="width:0.4505em">0</span><span class="m">,</span><span class="s"> </span><span class="d" style="width:0.4505em">0</span><span class="p">%</span></div>
<div class="t al lg" style="left:132.4px;top:744px;font-size:10.75px;line-height:13px">Ａ<span class="s"> </span>できている</div>
<div class="t al lg" style="left:221.7px;top:744px;font-size:10.75px;line-height:13px">Ｂ<span class="s"> </span>ややできている</div>
<div class="t al lg" style="left:331.7px;top:744px;font-size:10.75px;line-height:13px">Ｃ<span class="s"> </span>あまりできていない</div>
<div class="t al lg" style="left:463.9px;top:744px;font-size:10.75px;line-height:13px">Ｄ<span class="s"> </span>できていない</div>
<div class="t ac th hb" style="left:642.73px;top:118px;font-size:14.18px;line-height:17px">今回</div>
<div class="t ac th" style="left:690.5px;top:118px;font-size:14.18px;line-height:17px"><span class="r">R</span><span class="d" style="width:0.4505em">7</span>前期</div>
<div class="t ac th" style="left:737.3px;top:119px;font-size:13.73px;line-height:16px"><span class="r">R</span><span class="d" style="width:0.4505em">6</span>後期</div>
<div class="t ac rh" style="left:595.42px;top:155px;font-size:14.78px;line-height:17px">教師</div>
<div class="t ac pc rb" style="left:643.23px;top:144px;font-size:14.78px;line-height:17px;color:#FF0000"><span class="d" style="width:0.9009em">72</span><span class="p">%</span></div>
<div class="t ac gr rg" style="left:643.43px;top:167px;font-size:16.28px;line-height:19px;color:#FF0000">Ⓑ</div>
<div class="t ac pc rb" style="left:690.5px;top:144px;font-size:14.78px;line-height:17px;color:#FF0000"><span class="d" style="width:0.9009em">81</span><span class="p">%</span></div>
<div class="t ac gr rg" style="left:690.7px;top:167px;font-size:16.28px;line-height:19px;color:#FF0000">Ⓑ</div>
<div class="t ac pc" style="left:737.7px;top:144px;font-size:14.78px;line-height:17px"><span class="d" style="width:0.9009em">88</span><span class="p">%</span></div>
<div class="t ac gr" style="left:737.9px;top:167px;font-size:16.28px;line-height:19px">Ⓐ</div>
<div class="t ac rh" style="left:595.42px;top:205px;font-size:13.43px;line-height:16px">保護者</div>
<div class="t ac pc" style="left:643.23px;top:194px;font-size:14.78px;line-height:17px"><span class="d" style="width:0.9009em">88</span><span class="p">%</span></div>
<div class="t ac gr" style="left:643.43px;top:216px;font-size:16.28px;line-height:19px">Ⓐ</div>
<div class="t ac pc" style="left:690.5px;top:194px;font-size:14.78px;line-height:17px"><span class="d" style="width:0.9009em">87</span><span class="p">%</span></div>
<div class="t ac gr" style="left:690.7px;top:216px;font-size:16.28px;line-height:19px">Ⓐ</div>
<div class="t ac pc" style="left:737.7px;top:194px;font-size:14.78px;line-height:17px"><span class="d" style="width:0.9009em">86</span><span class="p">%</span></div>
<div class="t ac gr" style="left:737.9px;top:216px;font-size:16.28px;line-height:19px">Ⓐ</div>
<div class="t ac rh" style="left:595.42px;top:255px;font-size:14.78px;line-height:17px">児童</div>
<div class="t ac pc" style="left:643.23px;top:243px;font-size:14.78px;line-height:17px"><span class="d" style="width:0.9009em">84</span><span class="p">%</span></div>
<div class="t ac gr" style="left:643.43px;top:266px;font-size:16.28px;line-height:19px">Ⓑ</div>
<div class="t ac pc" style="left:690.5px;top:243px;font-size:14.78px;line-height:17px"><span class="d" style="width:0.9009em">85</span><span class="p">%</span></div>
<div class="t ac gr" style="left:690.7px;top:266px;font-size:16.28px;line-height:19px">Ⓑ</div>
<div class="t ac pc" style="left:737.7px;top:243px;font-size:14.78px;line-height:17px"><span class="d" style="width:0.9009em">85</span><span class="p">%</span></div>
<div class="t ac gr" style="left:737.9px;top:266px;font-size:16.28px;line-height:19px">Ⓑ</div>
<div class="t ac th hb" style="left:642.73px;top:591px;font-size:14.18px;line-height:17px">今回</div>
<div class="t ac th" style="left:690.5px;top:591px;font-size:14.18px;line-height:17px"><span class="r">R</span><span class="d" style="width:0.4505em">7</span>前期</div>
<div class="t ac th" style="left:737.3px;top:591px;font-size:13.73px;line-height:16px"><span class="r">R</span><span class="d" style="width:0.4505em">6</span>後期</div>
<div class="t ac rh" style="left:595.42px;top:627px;font-size:14.78px;line-height:17px">教師</div>
<div class="t ac pc rb" style="left:642.73px;top:616px;font-size:14.78px;line-height:17px;color:#FF0000"><span class="d" style="width:0.9009em">88</span><span class="p">%</span></div>
<div class="t ac gr rg" style="left:642.93px;top:639px;font-size:16.28px;line-height:19px;color:#FF0000">Ⓐ</div>
<div class="t ac pc" style="left:690px;top:616px;font-size:14.78px;line-height:17px"><span class="d" style="width:0.9009em">94</span><span class="p">%</span></div>
<div class="t ac gr" style="left:690.2px;top:639px;font-size:16.28px;line-height:19px">Ⓐ</div>
<div class="t ac pc" style="left:737.2px;top:616px;font-size:14.78px;line-height:17px"><span class="d" style="width:0.9009em">91</span><span class="p">%</span></div>
<div class="t ac gr" style="left:737.4px;top:639px;font-size:16.28px;line-height:19px">Ⓐ</div>
<div class="t ac rh" style="left:595.42px;top:678px;font-size:13.43px;line-height:16px">保護者</div>
<div class="t ac pc" style="left:642.73px;top:665px;font-size:14.78px;line-height:17px"><span class="d" style="width:0.9009em">89</span><span class="p">%</span></div>
<div class="t ac gr" style="left:642.93px;top:689px;font-size:16.28px;line-height:19px">Ⓐ</div>
<div class="t ac pc" style="left:690px;top:665px;font-size:14.78px;line-height:17px"><span class="d" style="width:0.9009em">91</span><span class="p">%</span></div>
<div class="t ac gr" style="left:690.2px;top:689px;font-size:16.28px;line-height:19px">Ⓐ</div>
<div class="t ac pc" style="left:737.2px;top:665px;font-size:14.78px;line-height:17px"><span class="d" style="width:0.9009em">86</span><span class="p">%</span></div>
<div class="t ac gr" style="left:737.4px;top:689px;font-size:16.28px;line-height:19px">Ⓐ</div>
<div class="t ac rh" style="left:595.42px;top:727px;font-size:14.78px;line-height:17px">児童</div>
<div class="t ac pc" style="left:642.73px;top:715px;font-size:14.78px;line-height:17px"><span class="d" style="width:0.9009em">93</span><span class="p">%</span></div>
<div class="t ac gr" style="left:642.93px;top:738px;font-size:16.28px;line-height:19px">Ⓐ</div>
<div class="t ac pc" style="left:690px;top:715px;font-size:14.78px;line-height:17px"><span class="d" style="width:0.9009em">97</span><span class="p">%</span></div>
<div class="t ac gr" style="left:690.2px;top:738px;font-size:16.28px;line-height:19px">Ⓐ</div>
<div class="t ac pc" style="left:737.2px;top:715px;font-size:14.78px;line-height:17px"><span class="d" style="width:0.9009em">92</span><span class="p">%</span></div>
<div class="t ac gr" style="left:737.4px;top:738px;font-size:16.28px;line-height:19px">Ⓐ</div>
<div class="t al ct" style="left:586.7px;top:315px;font-size:12.09px;line-height:15px">　おおむね高い評価なので</div>
<div class="t al ct" style="left:586.7px;top:330px;font-size:12.09px;line-height:15px">すが、高学年児童に「学校</div>
<div class="t al ct" style="left:586.7px;top:346px;font-size:12.09px;line-height:15px">に来るのが楽しい」とあま</div>
<div class="t al ct" style="left:586.7px;top:362px;font-size:12.09px;line-height:15px">り思っていないという児童</div>
<div class="t al ct" style="left:586.7px;top:378px;font-size:12.09px;line-height:15px">がいることが気になります。</div>
<div class="t al ct" style="left:586.7px;top:393px;font-size:12.09px;line-height:15px">　学校としては、生徒指導</div>
<div class="t al ct" style="left:586.7px;top:410px;font-size:12.09px;line-height:15px">面でのチーム力を更に高め、</div>
<div class="t al ct" style="left:586.7px;top:426px;font-size:12.09px;line-height:15px">小さな問題を見逃さず対応</div>
<div class="t al ct" style="left:586.7px;top:441px;font-size:12.09px;line-height:15px">していきたいと考えており</div>
<div class="t al ct" style="left:580.4px;top:520px;font-size:12.09px;line-height:15px">　教員間で情報共有はしてお</div>
<div class="t al ct" style="left:580.4px;top:535px;font-size:12.09px;line-height:15px">りますが、さらにきめ細かな</div>
<div class="t al ct" style="left:580.4px;top:551px;font-size:12.09px;line-height:15px">対応を目指します。</div>
<div class="t al ct" style="left:584.8px;top:779px;font-size:12.09px;line-height:15px">　ほとんどの子どもたちが、</div>
<div class="t al ct" style="left:584.8px;top:795px;font-size:12.09px;line-height:15px">先生は相談に乗ってくれる</div>
<div class="t al ct" style="left:584.8px;top:810px;font-size:12.09px;line-height:15px">と思ってくれていることを</div>
<div class="t al ct" style="left:584.8px;top:826px;font-size:12.09px;line-height:15px">大変嬉しく思います。今後</div>
<div class="t al ct" style="left:584.8px;top:841px;font-size:12.09px;line-height:15px">も継続して子どもたちとの</div>
<div class="t al ct" style="left:584.8px;top:857px;font-size:12.09px;line-height:15px">関係をよりよいものにして</div>
<div class="t al ct" style="left:584.8px;top:873px;font-size:12.09px;line-height:15px">いきたいと思います。</div>
</body>
</html>
